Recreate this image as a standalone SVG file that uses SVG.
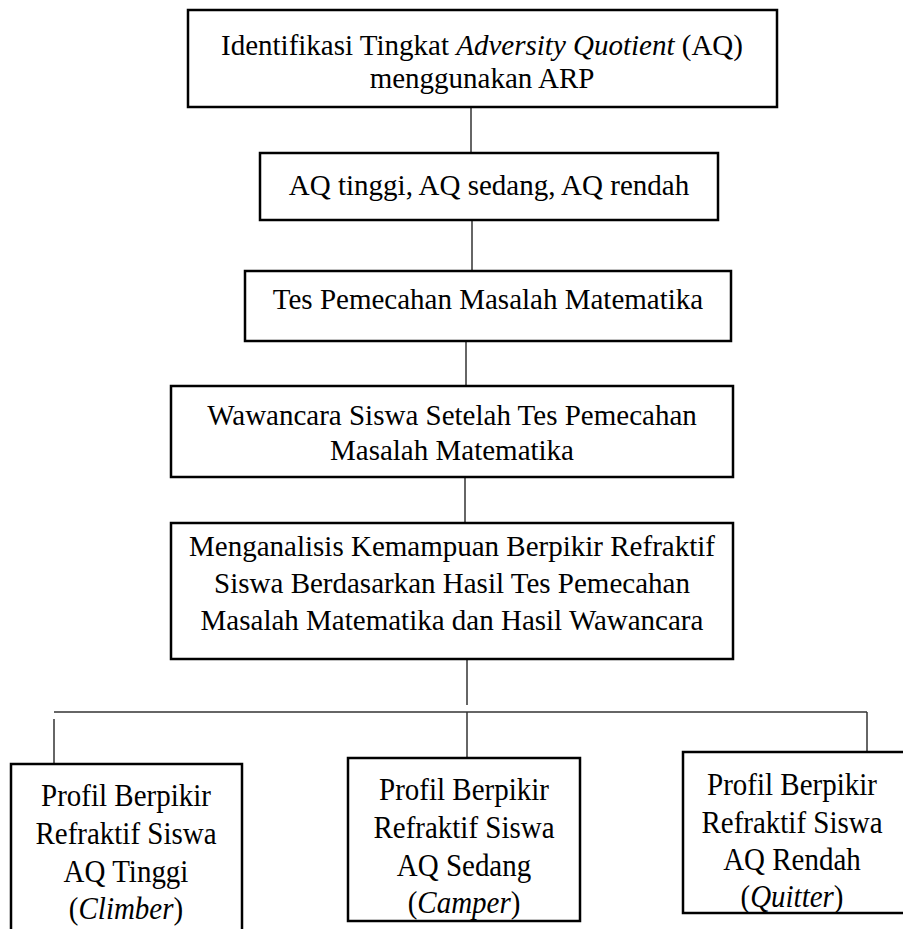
<svg xmlns="http://www.w3.org/2000/svg" width="903" height="929" viewBox="0 0 903 929">
<style>
.box{fill:#fff;stroke:#000;stroke-width:2.5}
.t{font-family:"Liberation Serif","Times New Roman",serif;font-size:29px;fill:#000;text-anchor:middle}
.c{stroke:#333;stroke-width:1.5;fill:none}
</style>
<rect width="903" height="929" fill="#fff"/>
<g id="connectors">
<line class="c" x1="471" y1="107" x2="471" y2="153"/>
<line class="c" x1="472" y1="220" x2="472" y2="271"/>
<line class="c" x1="466" y1="341" x2="466" y2="386"/>
<line class="c" x1="465" y1="477" x2="465" y2="523"/>
<line class="c" x1="467" y1="659" x2="467" y2="705"/>
<line class="c" x1="54" y1="712" x2="867" y2="712"/>
<line class="c" x1="54" y1="719" x2="54" y2="764"/>
<line class="c" x1="467" y1="712" x2="467" y2="757"/>
<line class="c" x1="867" y1="712" x2="867" y2="757"/>
</g>
<g id="n1">
<rect class="box" x="188" y="10" width="589" height="97"/>
<text class="t" x="482" y="55">Identifikasi Tingkat <tspan font-style="italic">Adversity Quotient</tspan> (AQ)</text>
<text class="t" x="482" y="88">menggunakan ARP</text>
</g>
<g id="n2">
<rect class="box" x="260" y="153" width="458" height="67"/>
<text class="t" x="489" y="195">AQ tinggi, AQ sedang, AQ rendah</text>
</g>
<g id="n3">
<rect class="box" x="245" y="271" width="486" height="70"/>
<text class="t" x="488" y="309">Tes Pemecahan Masalah Matematika</text>
</g>
<g id="n4">
<rect class="box" x="171" y="386" width="562" height="91"/>
<text class="t" x="452" y="425">Wawancara Siswa Setelah Tes Pemecahan</text>
<text class="t" x="452" y="460">Masalah Matematika</text>
</g>
<g id="n5">
<rect class="box" x="171" y="523" width="562" height="136"/>
<text class="t" x="452" y="556">Menganalisis Kemampuan Berpikir Refraktif</text>
<text class="t" x="452" y="593">Siswa Berdasarkan Hasil Tes Pemecahan</text>
<text class="t" x="452" y="630">Masalah Matematika dan Hasil Wawancara</text>
</g>
<g id="n6">
<rect class="box" x="11" y="764" width="231" height="170"/>
<text class="t" transform="translate(126,806) scale(1,1.12)">Profil Berpikir</text>
<text class="t" transform="translate(126,844) scale(1,1.12)">Refraktif Siswa</text>
<text class="t" transform="translate(126,882) scale(1,1.12)">AQ Tinggi</text>
<text class="t" transform="translate(126,919) scale(1,1.12)">(<tspan font-style="italic">Climber</tspan>)</text>
</g>
<g id="n7">
<rect class="box" x="348" y="758" width="232" height="163"/>
<text class="t" transform="translate(464,800) scale(1,1.12)">Profil Berpikir</text>
<text class="t" transform="translate(464,838) scale(1,1.12)">Refraktif Siswa</text>
<text class="t" transform="translate(464,876) scale(1,1.12)">AQ Sedang</text>
<text class="t" transform="translate(464,913) scale(1,1.12)">(<tspan font-style="italic">Camper</tspan>)</text>
</g>
<g id="n8">
<rect class="box" x="683" y="752" width="225" height="161"/>
<text class="t" transform="translate(792,795) scale(1,1.12)">Profil Berpikir</text>
<text class="t" transform="translate(792,833) scale(1,1.12)">Refraktif Siswa</text>
<text class="t" transform="translate(792,870) scale(1,1.12)">AQ Rendah</text>
<text class="t" transform="translate(792,907) scale(1,1.12)">(<tspan font-style="italic">Quitter</tspan>)</text>
</g>
</svg>
